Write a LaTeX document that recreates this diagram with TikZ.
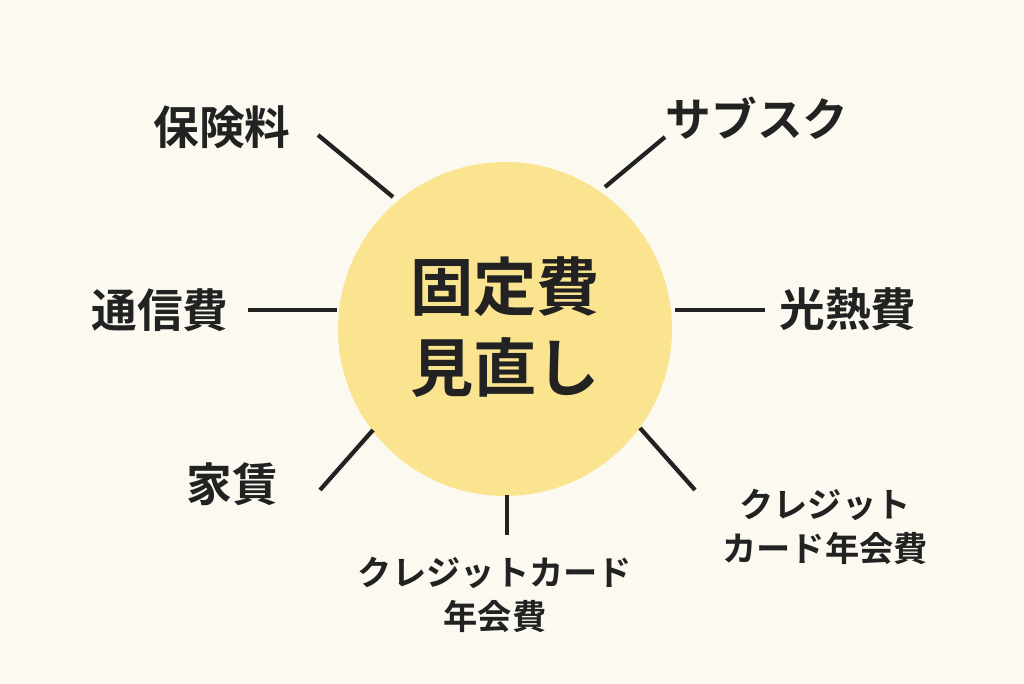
\documentclass[tikz,border=0pt]{standalone}
\usepackage{fontspec}
\setmainfont{Noto Sans CJK JP}[BoldFont={* Bold}]
\usetikzlibrary{positioning}
\definecolor{bgcol}{HTML}{FCF9F1}
\definecolor{suncol}{HTML}{FAE48F}
\definecolor{inkcol}{HTML}{222222}
\begin{document}
\begin{tikzpicture}[
x=0.02cm, y=-0.02cm,
every node/.style={align=center, text=inkcol, font=\bfseries},
label/.style={font=\fontsize{26}{30}\bfseries\selectfont},
smalllabel/.style={font=\fontsize{19.5}{25}\bfseries\selectfont},
spoke/.style={draw=inkcol, line width=2.4pt}
]
\fill[bgcol] (0,0) rectangle (1024,683);
\useasboundingbox (0,0) rectangle (1024,683);
% centre
\fill[suncol] (505,329) circle (167);
\node[font=\fontsize{36}{46}\bfseries\selectfont] (hub) at (505,327) {固定費\\見直し};
% labels
\node[label] (hoken) at (222,127) {保険料};
\node[label] (sub) at (757,118) {サブスク};
\node[label] (tsushin) at (160,310) {通信費};
\node[label] (kounetsu) at (848,309) {光熱費};
\node[label] (yachin) at (232,484) {家賃};
\node[smalllabel] (card1) at (495,595) {クレジットカード\\年会費};
\node[smalllabel] (card2) at (825,527) {クレジット\\カード年会費};
% spoke ends
\coordinate (h1) at (318,135); \coordinate (h2) at (393,197);
\coordinate (s1) at (665,137); \coordinate (s2) at (605,187);
\coordinate (t1) at (248,310); \coordinate (t2) at (337,310);
\coordinate (k1) at (765,310); \coordinate (k2) at (675,310);
\coordinate (y1) at (320,490); \coordinate (y2) at (373,430);
\coordinate (c1) at (507,535); \coordinate (c2) at (507,495);
\coordinate (d1) at (695,490); \coordinate (d2) at (640,428);
\foreach \a/\b in {h1/h2, s1/s2, t1/t2, k1/k2, y1/y2, c1/c2, d1/d2}
  \draw[spoke] (\a) -- (\b);
\end{tikzpicture}
\end{document}
